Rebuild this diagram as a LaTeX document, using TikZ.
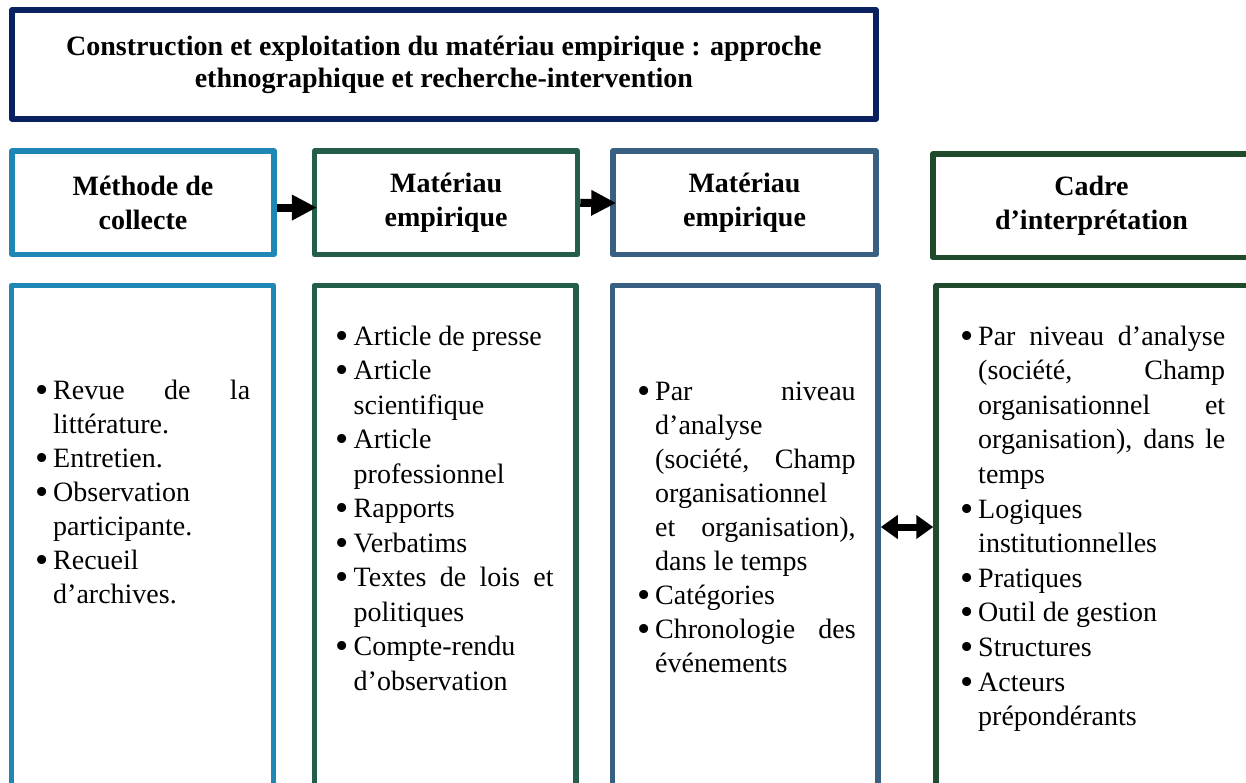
\documentclass[tikz,border=0pt]{standalone}
\usepackage{fontspec}
\usepackage{graphicx}
\setmainfont{Liberation Serif}
\usetikzlibrary{arrows.meta}
\definecolor{bleunuit}{HTML}{0A2160}
\definecolor{bleuclair}{HTML}{1F87B5}
\definecolor{vertsapin}{HTML}{225E4A}
\definecolor{bleuacier}{HTML}{376082}
\definecolor{vertfonce}{HTML}{1F4A2C}
\newcommand{\puce}{\makebox[18pt][l]{\smash{\raisebox{-0.11em}{\scalebox{1.35}{\textbullet}}}}}
\newcommand{\retrait}{\hspace*{18pt}}
\newcommand{\just}[1]{\makebox[\dimexpr\hsize-18pt\relax][s]{#1}}
\tikzset{
  cadre/.style={draw, line width=5.5pt, inner sep=0pt, fill=white},
  entete/.style={cadre, minimum height=103.5pt, align=center, font=\bfseries\fontsize{28}{34}\selectfont},
  liste/.style={inner sep=0pt, anchor=base west, font=\fontsize{28}{34.5}\selectfont},
  fleche/.style={line width=8pt, -{Triangle[length=25pt,width=24pt]}},
  dblfleche/.style={line width=7pt, {Triangle[length=17pt,width=23pt]}-{Triangle[length=17pt,width=23pt]}}
}
\begin{document}
\begin{tikzpicture}[x=1pt, y=-1pt, line join=round]
  \useasboundingbox (0,0) rectangle (1246,783);
  \path
  (0,66.5)coordinate(T)
  (0,542.75)coordinate(B)
  (0,527)coordinate(M)
  ;
  % titre
  \node[cadre, draw=bleunuit, minimum width=864pt, minimum height=109pt, align=center,
        font=\bfseries\fontsize{28}{32}\selectfont] (titre) at (443.9,64.5)
        {Construction et exploitation du matériau empirique : approche\\ethnographique et recherche-intervention};
  % en-tetes
  \foreach \n/\x/\y/\w/\c/\t in {h1/143/202.75/262/bleuclair/{Méthode de\\collecte},
      h2/446.1/202.75/262.8/vertsapin/{Matériau\\empirique},
      h3/744.5/203/263/bleuacier/{Matériau\\empirique},
      h4/1091.5/205.7/317/vertfonce/{Cadre\\d’interprétation}}
    \node[entete, draw=\c, minimum width=\w] (\n) at (\x,\y) {\t};
  % colonnes
  \foreach \n/\x/\w/\c in {b1/142.5/262/bleuclair, b2/445.25/261.5/vertsapin,
      b3/745.25/265.5/bleuacier, b4/1094/316/vertfonce}
    \node[cadre, draw=\c, minimum width=\w, minimum height=514.5pt] (\n) at (\x,542.75) {};
  % fleches
  \draw[fleche] ([yshift=-4.8pt]h1.east) -- ([xshift=5pt,yshift=-4.8pt]h2.west);
  \draw[fleche] (h2.east) -- ([xshift=6pt]h3.west);
  \draw[dblfleche] (b3.east |- M) -- (b4.west |- M);
  % listes
  \node[liste, font=\fontsize{28}{34}\selectfont] (l1) at (35,399) {\parbox[t]{215pt}{%
    \puce\just{Revue de la}\\
    \retrait littérature.\\
    \puce Entretien.\\
    \puce Observation\\
    \retrait participante.\\
    \puce Recueil\\
    \retrait d’archives.}};
  \node[liste] (l2) at (335.5,345) {\parbox[t]{218pt}{%
    \puce Article de presse\\
    \puce Article\\
    \retrait scientifique\\
    \puce Article\\
    \retrait professionnel\\
    \puce Rapports\\
    \puce Verbatims\\
    \puce\just{Textes de lois et}\\
    \retrait politiques\\
    \puce Compte-rendu\\
    \retrait d’observation}};
  \node[liste, font=\fontsize{28}{34}\selectfont] (l3) at (637,400) {\parbox[t]{218.5pt}{%
    \puce\just{Par niveau}\\
    \retrait d’analyse\\
    \retrait\just{(société, Champ}\\
    \retrait organisationnel\\
    \retrait\just{et organisation),}\\
    \retrait dans le temps\\
    \puce Catégories\\
    \puce\just{Chronologie des}\\
    \retrait événements}};
  \node[liste, font=\fontsize{28}{34.6}\selectfont] (l4) at (960,345) {\parbox[t]{265pt}{%
    \puce\just{Par niveau d’analyse}\\
    \retrait\just{(société, Champ}\\
    \retrait\just{organisationnel et}\\
    \retrait\just{organisation), dans le}\\
    \retrait temps\\
    \puce Logiques\\
    \retrait institutionnelles\\
    \puce Pratiques\\
    \puce Outil de gestion\\
    \puce Structures\\
    \puce Acteurs\\
    \retrait prépondérants}};
\end{tikzpicture}
\end{document}
